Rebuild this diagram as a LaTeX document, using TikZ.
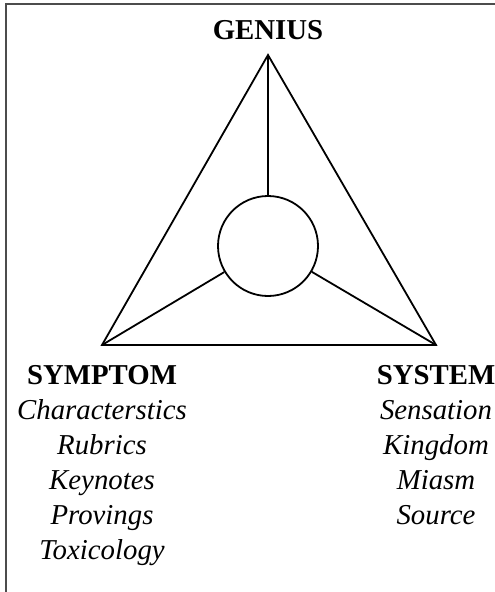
\documentclass[tikz,border=0pt]{standalone}
\usepackage{fontspec}
\setmainfont{Liberation Serif}
\usetikzlibrary{positioning}

\tikzset{
  heading/.style={inner sep=0pt, font=\fontsize{28.8}{35}\selectfont\bfseries},
  entries/.style={inner sep=0pt, align=center, font=\fontsize{28.8}{35}\selectfont},
  hub/.style={circle, draw, minimum size=100pt, inner sep=0pt},
  edge/.style={line width=1.8pt, line join=miter},
  frame/.style={line width=2pt, black!70},
}

\begin{document}
\begin{tikzpicture}[x=1pt,y=-1pt]
  \useasboundingbox (0,0) rectangle (495,592);
  \draw[frame] (6,592) -- (6,4) -- (495,4);

  \coordinate (apex) at (268,55);
  \coordinate (symcorner) at (102,345);
  \coordinate (syscorner) at (436,345);
  \node[hub, edge] (core) at (268,246) {};

  \draw[edge] (apex) -- (symcorner) -- (syscorner) -- cycle;
  \draw[edge] (apex) -- (core);
  \draw[edge] (symcorner) -- (core);
  \draw[edge] (syscorner) -- (core);

  \node[heading, above=15pt of apex] (genius) {GENIUS};
  \node[entries, below=20pt of symcorner] (symptom)
    {\textbf{SYMPTOM}\\ \itshape Characterstics\\ \itshape Rubrics\\
     \itshape Keynotes\\ \itshape Provings\\ \itshape Toxicology};
  \node[entries, below=20pt of syscorner] (system)
    {\textbf{SYSTEM}\\ \itshape Sensation\\ \itshape Kingdom\\
     \itshape Miasm\\ \itshape Source};
\end{tikzpicture}
\end{document}
